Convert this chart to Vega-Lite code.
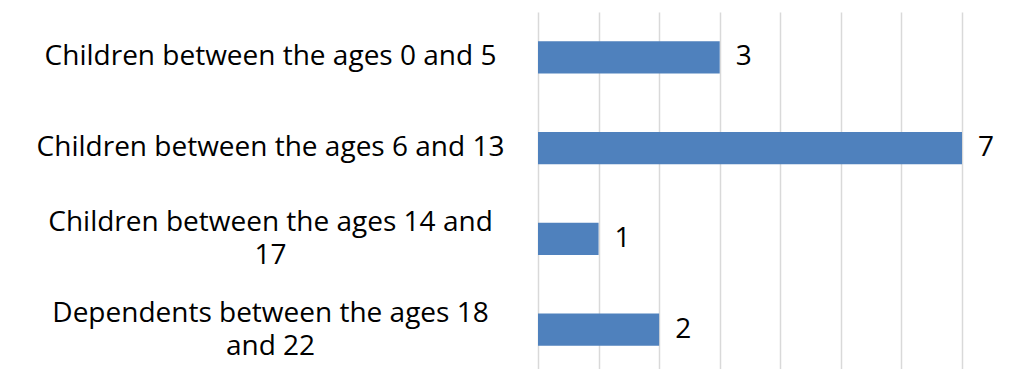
{
  "$schema": "https://vega.github.io/schema/vega-lite/v6.json",
  "width": 424,
  "height": 363,
  "autosize": {"type": "none"},
  "padding": {"left": 538, "top": 12, "right": 51, "bottom": 0},
  "background": "white",
  "config": {
    "view": {"stroke": null},
    "font": "Open Sans"
  },
  "data": {
    "values": [
      {"group": "Children between the ages 0 and 5", "count": 3},
      {"group": "Children between the ages 6 and 13", "count": 7},
      {"group": "Children between the ages 14 and 17", "count": 1},
      {"group": "Dependents between the ages 18 and 22", "count": 2}
    ]
  },
  "encoding": {
    "y": {
      "field": "group",
      "type": "nominal",
      "sort": null,
      "scale": {"paddingInner": 0.647, "paddingOuter": 0.3235},
      "axis": {
        "title": null,
        "domain": false,
        "ticks": false,
        "grid": false,
        "labelAlign": "center",
        "labelBaseline": "middle",
        "labelPadding": 268,
        "labelFontSize": 28,
        "labelFont": "Open Sans",
        "labelColor": "#000000",
        "labelLimit": 0,
        "labelLineHeight": 33,
        "labelOffset": {
          "condition": {"test": "length(datum.label) > 34", "value": -16},
          "value": 0
        },
        "labelExpr": "datum.label == 'Children between the ages 14 and 17' ? ['Children between the ages 14 and', '17'] : datum.label == 'Dependents between the ages 18 and 22' ? ['Dependents between the ages 18', 'and 22'] : datum.label"
      }
    },
    "x": {
      "field": "count",
      "type": "quantitative",
      "scale": {"domain": [0, 7], "nice": false},
      "axis": {
        "title": null,
        "labels": false,
        "ticks": false,
        "domain": false,
        "grid": true,
        "values": [0, 1, 2, 3, 4, 5, 6, 7],
        "gridColor": "#d9d9d9",
        "gridWidth": 1.5,
        "gridOpacity": 1
      }
    }
  },
  "layer": [
    {"mark": {"type": "bar", "color": "#4f81bd", "cornerRadius": 0}},
    {
      "mark": {"type": "text", "align": "left", "baseline": "middle", "dx": 16, "fontSize": 28, "font": "Open Sans", "color": "#000000"},
      "encoding": {"text": {"field": "count", "type": "quantitative"}}
    }
  ]
}
